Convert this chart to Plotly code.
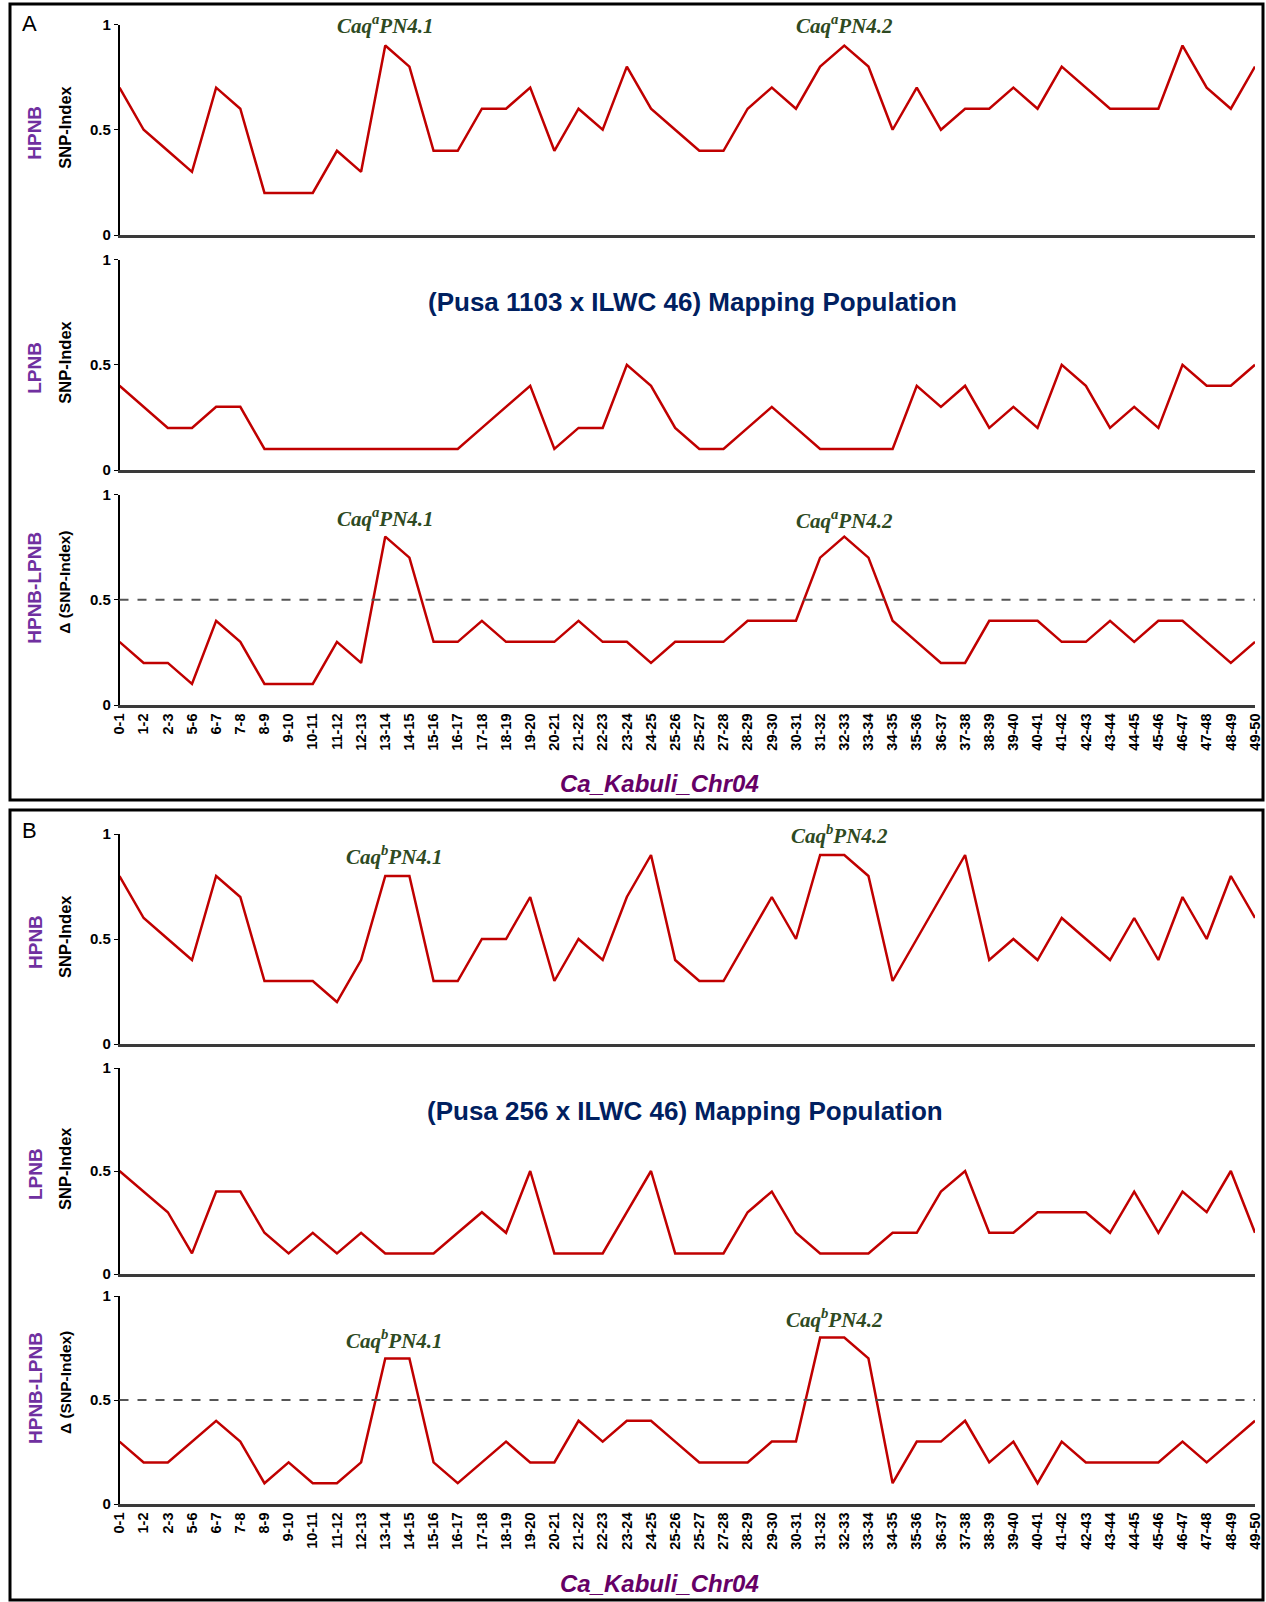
import plotly.graph_objects as go

categories = ["0-1", "1-2", "2-3", "5-6", "6-7", "7-8", "8-9", "9-10", "10-11", "11-12",
              "12-13", "13-14", "14-15", "15-16", "16-17", "17-18", "18-19", "19-20", "20-21",
              "21-22", "22-23", "23-24", "24-25", "25-26", "25-27", "27-28", "28-29", "29-30",
              "30-31", "31-32", "32-33", "33-34", "34-35", "35-36", "36-37", "37-38", "38-39",
              "39-40", "40-41", "41-42", "42-43", "43-44", "44-45", "45-46", "46-47", "47-48",
              "48-49", "49-50"]

a_hpnb = [0.7, 0.5, 0.4, 0.3, 0.7, 0.6, 0.2, 0.2, 0.2, 0.4, 0.3, 0.9, 0.8, 0.4, 0.4, 0.6, 0.6,
          0.7, 0.4, 0.6, 0.5, 0.8, 0.6, 0.5, 0.4, 0.4, 0.6, 0.7, 0.6, 0.8, 0.9, 0.8, 0.5, 0.7,
          0.5, 0.6, 0.6, 0.7, 0.6, 0.8, 0.7, 0.6, 0.6, 0.6, 0.9, 0.7, 0.6, 0.8]
a_lpnb = [0.4, 0.3, 0.2, 0.2, 0.3, 0.3, 0.1, 0.1, 0.1, 0.1, 0.1, 0.1, 0.1, 0.1, 0.1, 0.2, 0.3,
          0.4, 0.1, 0.2, 0.2, 0.5, 0.4, 0.2, 0.1, 0.1, 0.2, 0.3, 0.2, 0.1, 0.1, 0.1, 0.1, 0.4,
          0.3, 0.4, 0.2, 0.3, 0.2, 0.5, 0.4, 0.2, 0.3, 0.2, 0.5, 0.4, 0.4, 0.5]
a_delta = [0.3, 0.2, 0.2, 0.1, 0.4, 0.3, 0.1, 0.1, 0.1, 0.3, 0.2, 0.8, 0.7, 0.3, 0.3, 0.4, 0.3,
           0.3, 0.3, 0.4, 0.3, 0.3, 0.2, 0.3, 0.3, 0.3, 0.4, 0.4, 0.4, 0.7, 0.8, 0.7, 0.4, 0.3,
           0.2, 0.2, 0.4, 0.4, 0.4, 0.3, 0.3, 0.4, 0.3, 0.4, 0.4, 0.3, 0.2, 0.3]

b_hpnb = [0.8, 0.6, 0.5, 0.4, 0.8, 0.7, 0.3, 0.3, 0.3, 0.2, 0.4, 0.8, 0.8, 0.3, 0.3, 0.5, 0.5,
          0.7, 0.3, 0.5, 0.4, 0.7, 0.9, 0.4, 0.3, 0.3, 0.5, 0.7, 0.5, 0.9, 0.9, 0.8, 0.3, 0.5,
          0.7, 0.9, 0.4, 0.5, 0.4, 0.6, 0.5, 0.4, 0.6, 0.4, 0.7, 0.5, 0.8, 0.6]
b_lpnb = [0.5, 0.4, 0.3, 0.1, 0.4, 0.4, 0.2, 0.1, 0.2, 0.1, 0.2, 0.1, 0.1, 0.1, 0.2, 0.3, 0.2,
          0.5, 0.1, 0.1, 0.1, 0.3, 0.5, 0.1, 0.1, 0.1, 0.3, 0.4, 0.2, 0.1, 0.1, 0.1, 0.2, 0.2,
          0.4, 0.5, 0.2, 0.2, 0.3, 0.3, 0.3, 0.2, 0.4, 0.2, 0.4, 0.3, 0.5, 0.2]
b_delta = [0.3, 0.2, 0.2, 0.3, 0.4, 0.3, 0.1, 0.2, 0.1, 0.1, 0.2, 0.7, 0.7, 0.2, 0.1, 0.2, 0.3,
           0.2, 0.2, 0.4, 0.3, 0.4, 0.4, 0.3, 0.2, 0.2, 0.2, 0.3, 0.3, 0.8, 0.8, 0.7, 0.1, 0.3,
           0.3, 0.4, 0.2, 0.3, 0.1, 0.3, 0.2, 0.2, 0.2, 0.2, 0.3, 0.2, 0.3, 0.4]

y_ticks = [0, 0.5, 1]
y_ticklabels = ["0", "0.5", "1"]
series = [a_hpnb, a_lpnb, a_delta, b_hpnb, b_lpnb, b_delta]

W, H = 1266, 1602
def px(x):
    return x / W
def py(y):
    return 1 - y / H

# subplot pixel extents (top of y=1, bottom y=0)
rows = [(24.5, 235), (259.5, 470), (494.5, 705), (834, 1044), (1068, 1274), (1296, 1504)]
x_left, x_right = 119.5, 1255

RED = "#C00000"
PURPLE = "#7030A0"
GREEN = "#2E4A22"
FONT = "Liberation Sans"
SERIF = "Liberation Serif"

fig = go.Figure()
layout = dict(width=W, height=H, margin=dict(l=0, r=0, t=0, b=0, pad=0), autosize=False,
              paper_bgcolor="white", plot_bgcolor="white", showlegend=False,
              font=dict(family=FONT, color="black"))

for i, (vals, (top, bot)) in enumerate(zip(series, rows)):
    k = "" if i == 0 else str(i + 1)
    fig.add_trace(go.Scatter(x=categories, y=vals, mode="lines",
                             line=dict(color=RED, width=2.5),
                             xaxis="x" + k, yaxis="y" + k, hoverinfo="x+y"))
    show_ticks = i in (2, 5)
    layout["xaxis" + k] = dict(
        domain=[px(x_left), px(x_right)], anchor="y" + k, type="category",
        categoryorder="array", categoryarray=categories, range=[0, 47],
        showline=True, linecolor="#3a3a3a", linewidth=2.5, showgrid=False, zeroline=False,
        ticks="", showticklabels=show_ticks, tickangle=-90, automargin=False,
        tickfont=dict(family=FONT, size=14.5, color="black", weight="bold"),
        fixedrange=True)
    layout["yaxis" + k] = dict(
        domain=[py(bot), py(top)], anchor="x" + k, range=[0, 1],
        tickvals=y_ticks, ticktext=y_ticklabels, ticks="outside", ticklen=4,
        tickcolor="black", showline=True, linecolor="black", linewidth=1.5,
        showgrid=False, zeroline=False, automargin=False,
        tickfont=dict(family=FONT, size=15, color="black", weight="bold"),
        fixedrange=True)

shapes = []
# panel boxes
shapes.append(dict(type="rect", xref="paper", yref="paper", x0=px(10), x1=px(1263),
                   y0=py(800), y1=py(4), line=dict(color="black", width=3)))
shapes.append(dict(type="rect", xref="paper", yref="paper", x0=px(10), x1=px(1263),
                   y0=py(1600), y1=py(810), line=dict(color="black", width=3)))
# threshold lines
for k in ("3", "6"):
    shapes.append(dict(type="line", xref="x%s domain" % k, yref="y" + k, x0=0, x1=1,
                       y0=0.5, y1=0.5, line=dict(color="#555555", width=2, dash="dash")))
layout["shapes"] = shapes

ann = []
def paper_text(x, y, text, size, color="black", bold=True, italic=False, family=FONT, angle=0):
    ann.append(dict(xref="paper", yref="paper", x=px(x), y=py(y), text=text, showarrow=False,
                    textangle=angle, xanchor="center", yanchor="middle",
                    font=dict(family=family, size=size, color=color,
                              weight="bold" if bold else "normal",
                              style="italic" if italic else "normal")))

paper_text(29, 23, "A", 22, bold=False)
paper_text(29, 830, "B", 22, bold=False)

# y-axis side titles
side = [("HPNB", "SNP-Index"), ("LPNB", "SNP-Index"), ("HPNB-LPNB", "Δ (SNP-Index)"),
        ("HPNB", "SNP-Index"), ("LPNB", "SNP-Index"), ("HPNB-LPNB", "Δ (SNP-Index)")]
for (t1, t2), (top, bot) in zip(side, rows):
    mid = (top + bot) / 2
    is_delta = "Δ" in t2
    off = -15 if is_delta else 0
    paper_text(35, mid + off + 3, t1, 19, color=PURPLE, angle=-90)
    paper_text(65, mid + off - 2, t2, 15.5 if is_delta else 16.5, angle=-90)

paper_text(692, 302, "(Pusa 1103 x ILWC 46) Mapping Population", 26, color="#002060")
paper_text(685, 1111, "(Pusa 256 x ILWC 46) Mapping Population", 26, color="#002060")
paper_text(659, 783, "Ca_Kabuli_Chr04", 24, color="#660066", italic=True)
paper_text(659, 1583, "Ca_Kabuli_Chr04", 24, color="#660066", italic=True)

# QTL labels
qtl = [("", 11, 1.0, "a", "4.1"), ("", 30, 1.0, "a", "4.2"),
       ("3", 11, 0.89, "a", "4.1"), ("3", 30, 0.88, "a", "4.2"),
       ("4", 11.4, 0.90, "b", "4.1"), ("4", 29.8, 1.0, "b", "4.2"),
       ("6", 11.4, 0.79, "b", "4.1"), ("6", 29.6, 0.89, "b", "4.2")]
for k, xi, yv, sup, num in qtl:
    ann.append(dict(xref="x" + k, yref="y" + k, x=xi, y=yv,
                    text="Caq<sup>%s</sup>PN%s" % (sup, num), showarrow=False,
                    xanchor="center", yanchor="middle",
                    font=dict(family=SERIF, size=21, color=GREEN, weight="bold", style="italic")))
layout["annotations"] = ann

fig.update_layout(**layout)
fig.write_html("out.html", config={"displayModeBar": False},
               post_script="document.documentElement.style.overflow='hidden';"
                           "document.body.style.margin='0px';"
                           "document.body.style.overflow='hidden';")
